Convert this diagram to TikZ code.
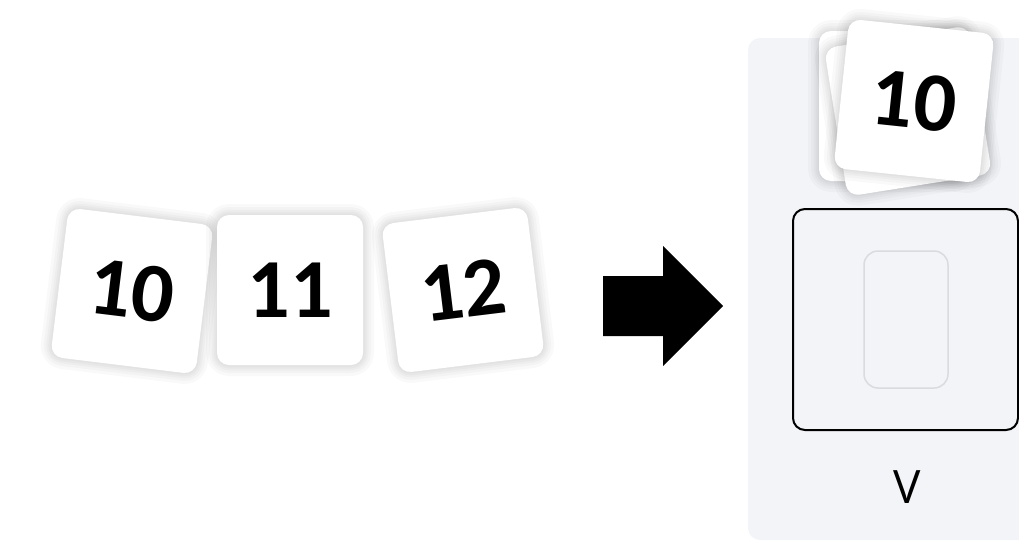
\documentclass[tikz,border=0pt]{standalone}
\usepackage{fontspec}
\setmainfont{Carlito}
\newfontfamily\labelfont{Open Sans}
\definecolor{panelgray}{HTML}{F3F4F8}
\definecolor{slotgray}{HTML}{DADBDF}
\tikzset{
  halo/.style={preaction={draw=black, draw opacity=0.025, line width=#1, line join=round}},
  card/.style={fill=white, rounded corners=12pt, minimum width=146pt, minimum height=150pt,
    inner sep=0pt, font=\bfseries\fontsize{84}{84}\selectfont,
    halo=22pt, halo=16pt, halo=11pt, halo=7pt, halo=3pt},
  slotbox/.style={draw, line width=2pt, rounded corners=12pt, minimum width=225pt, minimum height=221pt},
  holebox/.style={draw=slotgray, line width=1.5pt, rounded corners=14pt, minimum width=84pt, minimum height=137pt},
}
\begin{document}
\begin{tikzpicture}[x=1pt, y=-1pt]
        \useasboundingbox (0,0) rectangle (1019,541);
        % the row of cards
        \node[card, rotate=-7] (ten) at (132, 291) {10};
        \node[card] (eleven) at (290, 290) {11};
        \node[card, rotate=7] (twelve) at (463, 290) {12};
        % block arrow
        \fill (603,276) -- (663,276) -- (663,246) -- (723,306) -- (663,366) -- (663,336) -- (603,336) -- cycle;
        % the panel on the right
        \fill[panelgray, rounded corners=12pt] (748,38) rectangle (1060,540);
        \node[slotbox] (slot) at (905.5, 319.5) {};
        \node[holebox] (hole) at (906, 319.5) {};
        \node[font=\labelfont\fontsize{46}{46}\selectfont] (vlabel) at (907, 487) {V};
        % the pile
        \node[card] (pileA) at (892, 106) {};
        \node[card, rotate=9] (pileB) at (908, 111) {};
        \node[card, rotate=-6] (pileTop) at (914, 101) {10};
    \end{tikzpicture}
\end{document}
